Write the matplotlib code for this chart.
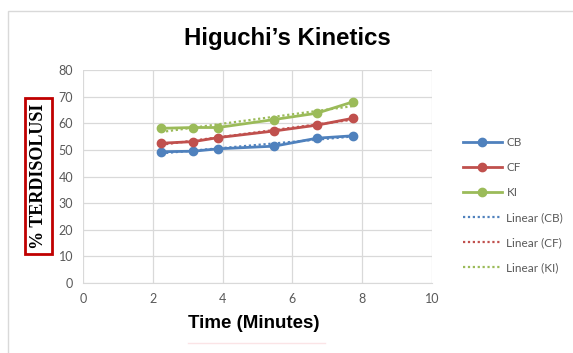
import numpy as np
import matplotlib.pyplot as plt
from matplotlib.patches import Rectangle
from matplotlib.lines import Line2D

# square root of time (minutes) and % dissolved for each formula
sqrt_t = [2.24, 3.16, 3.87, 5.48, 6.71, 7.75]
cb = [49.3, 49.5, 50.4, 51.4, 54.4, 55.3]
cf = [52.5, 53.1, 54.6, 57.1, 59.3, 61.9]
ki = [58.1, 58.4, 58.4, 61.4, 63.8, 68.1]

names = ["CB", "CF", "KI"]
colors = ["#4F81BD", "#C0504D", "#9BBB59"]
series = [cb, cf, ki]

x_ticks = [0, 2, 4, 6, 8, 10]
y_ticks = [0, 10, 20, 30, 40, 50, 60, 70, 80]

W, H = 573, 353
fig = plt.figure(figsize=(W / 100, H / 100), dpi=100)

# chart area border
fig.add_artist(Rectangle((8 / W, -0.1), 1.0, 1 - 11 / H + 0.1, transform=fig.transFigure,
                         fill=False, edgecolor="#D9D9D9", linewidth=1.0))

ax = fig.add_axes([83 / W, 1 - 283 / H, (432 - 83) / W, (283 - 70) / H])

handles = []
for name, c, ys in zip(names, colors, series):
    h, = ax.plot(sqrt_t, ys, color=c, linewidth=2.0, marker="o", markersize=6,
                 label=name, zorder=3)
    handles.append(h)

trend_handles = []
for name, c, ys in zip(names, colors, series):
    k, b = np.polyfit(sqrt_t, ys, 1)
    xs = np.array([sqrt_t[0], sqrt_t[-1]])
    h, = ax.plot(xs, k * xs + b, color=c, linewidth=1.6, linestyle=(0, (1, 1.2)),
                 label="Linear (%s)" % name, zorder=4)
    trend_handles.append(h)

ax.set_xlim(0, 10)
ax.set_ylim(0, 80)
ax.set_xticks(x_ticks)
ax.set_yticks(y_ticks)
ax.grid(True, color="#D9D9D9", linewidth=0.9)
ax.set_axisbelow(True)
for s in ax.spines.values():
    s.set_visible(False)
ax.spines["bottom"].set_visible(True)
ax.spines["bottom"].set_color("#D9D9D9")
ax.tick_params(length=0, labelsize=9, labelcolor="#595959", pad=7)
for lab in ax.get_xticklabels() + ax.get_yticklabels():
    lab.set_family("Lato")

fig.text(287 / W, 1 - 38 / H, "Higuchi\u2019s Kinetics", ha="center", va="center",
         fontsize=17.3, fontweight="bold", family="Liberation Sans")
fig.text(254 / W, 1 - 324 / H, "Time (Minutes)", ha="center", va="center",
         fontsize=13.5, fontweight="bold", family="Liberation Sans")
fig.text(38.5 / W, 1 - 176 / H, "% TERDISOLUSI", ha="center", va="center", rotation=90,
         fontsize=13, fontweight="bold", family="Liberation Serif",
         bbox=dict(boxstyle="square,pad=0.3", facecolor="white", edgecolor="#C00000",
                   linewidth=2.0))
fig.add_artist(Line2D([188 / W, 325 / W], [1 - 343 / H, 1 - 343 / H],
                      transform=fig.transFigure, color="#FBE4E6", linewidth=1.0))

leg = fig.legend(handles + trend_handles, [h.get_label() for h in handles + trend_handles],
                 loc="upper left", bbox_to_anchor=(458 / W, 1 - 132 / H), frameon=False,
                 prop={"family": "Lato", "size": 8.5}, labelcolor="#595959",
                 handlelength=3.3, handletextpad=0.4, labelspacing=1.2,
                 borderaxespad=0.0)

fig.savefig("out.png", dpi=100, facecolor="white")
